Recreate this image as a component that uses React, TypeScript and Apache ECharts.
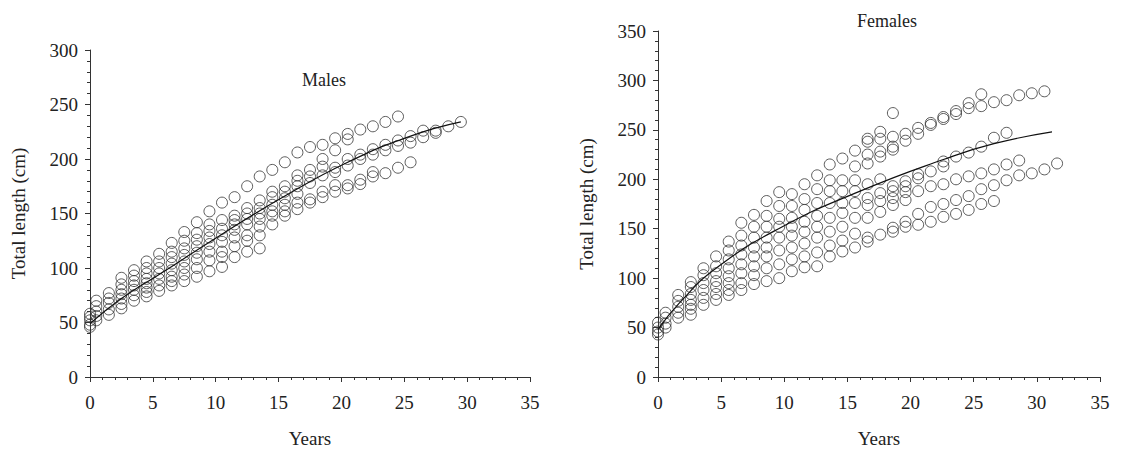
import { useEffect, useRef } from 'react';
import * as echarts from 'echarts';

// [age (years), total lengths (cm)] per column
const maleCols: [number, number[]][] = [
  [0, [58, 55, 52, 48, 46]],
  [0.5, [70, 65, 60, 56, 52]],
  [1.5, [77, 72, 68, 62, 57]],
  [2.5, [91, 85, 80, 76, 72, 67, 63]],
  [3.5, [98, 93, 88, 84, 80, 75, 70]],
  [4.5, [106, 100, 95, 90, 86, 82, 78, 74]],
  [5.5, [113, 106, 100, 95, 90, 84, 79]],
  [6.5, [123, 115, 110, 104, 98, 92, 88, 84]],
  [7.5, [133, 125, 118, 112, 106, 100, 94, 88]],
  [8.5, [142, 132, 126, 120, 114, 108, 100, 92]],
  [9.5, [152, 140, 134, 128, 122, 115, 107, 97]],
  [10.5, [160, 144, 136, 130, 124, 115, 110, 101]],
  [11.5, [165, 148, 144, 140, 135, 128, 120, 110]],
  [12.5, [175, 155, 150, 145, 140, 130, 125, 115]],
  [13.5, [184, 162, 155, 150, 145, 138, 130, 118]],
  [14.5, [190, 170, 165, 158, 152, 148, 140]],
  [15.5, [197, 175, 170, 164, 158, 152, 148]],
  [16.5, [206, 185, 180, 175, 168, 160, 154]],
  [17.5, [211, 190, 184, 178, 163, 160]],
  [18.5, [213, 200, 193, 185, 170, 165]],
  [19.5, [219, 208, 192, 188, 176, 170]],
  [20.5, [223, 218, 200, 194, 176, 173]],
  [21.5, [227, 204, 200, 181, 177]],
  [22.5, [230, 209, 204, 188, 184]],
  [23.5, [234, 213, 208, 187]],
  [24.5, [239, 217, 212, 192]],
  [25.5, [221, 215, 197]],
  [26.5, [226, 220]],
  [27.5, [226, 224]],
  [28.5, [230]],
  [29.5, [234]],
];

const femaleCols: [number, number[]][] = [
  [0, [55, 50, 46, 43]],
  [0.6, [65, 60, 54, 50]],
  [1.6, [83, 77, 71, 65, 60]],
  [2.6, [96, 91, 84, 78, 73, 69, 63]],
  [3.6, [110, 103, 95, 88, 80, 73]],
  [4.6, [122, 112, 105, 97, 91, 84, 78]],
  [5.6, [137, 128, 119, 110, 102, 95, 88, 83]],
  [6.6, [156, 143, 133, 124, 114, 105, 95, 88]],
  [7.6, [164, 152, 141, 131, 122, 112, 103, 94]],
  [8.6, [178, 163, 152, 141, 131, 122, 110, 97]],
  [9.6, [187, 173, 160, 152, 141, 128, 114, 100]],
  [10.6, [185, 173, 161, 152, 143, 131, 119, 107]],
  [11.6, [195, 180, 169, 157, 147, 135, 122, 111]],
  [12.6, [204, 190, 176, 163, 152, 141, 126, 112]],
  [13.6, [215, 199, 188, 176, 161, 147, 133, 122]],
  [14.6, [221, 199, 188, 176, 166, 152, 138, 127]],
  [15.6, [229, 213, 199, 188, 176, 161, 145, 131]],
  [16.6, [241, 238, 225, 216, 195, 181, 174, 161, 141, 137]],
  [17.6, [248, 241, 228, 223, 200, 186, 178, 167, 144]],
  [18.6, [267, 243, 233, 230, 193, 188, 181, 174, 151, 147]],
  [19.6, [246, 239, 198, 193, 187, 179, 157, 152]],
  [20.6, [252, 246, 205, 201, 188, 165, 154]],
  [21.6, [257, 255, 208, 193, 172, 157]],
  [22.6, [263, 261, 218, 213, 195, 175, 162]],
  [23.6, [269, 266, 223, 200, 179, 165]],
  [24.6, [277, 272, 227, 203, 183, 169]],
  [25.6, [286, 274, 233, 206, 190, 175]],
  [26.6, [278, 242, 210, 194, 178]],
  [27.6, [280, 247, 215, 199]],
  [28.6, [285, 219, 204]],
  [29.6, [287, 206]],
  [30.6, [289, 210]],
  [31.6, [216]],
];

// fitted growth curves
const maleCurve: [number, number][] = [
  [0, 49], [2.5, 72], [5.5, 94], [10.5, 131], [15.5, 166], [20.5, 197], [25.5, 221], [29.5, 234],
];
const femaleCurve: [number, number][] = [
  [0, 48], [1.7, 75], [4.7, 111], [9.7, 151], [16, 188], [22.6, 220], [26.6, 236], [31.2, 248],
];

const FONT = 'Liberation Serif';
const flat = (cols: [number, number[]][]) => cols.flatMap(([x, ys]) => ys.map((y) => [x, y]));

const xAxisBase = (gridIndex: number) => ({
  gridIndex,
  type: 'value',
  min: 0,
  max: 35,
  interval: 5,
  name: 'Years',
  nameLocation: 'middle',
  nameGap: 52,
  nameTextStyle: { fontFamily: FONT, fontSize: 19, color: '#222' },
  axisLine: { lineStyle: { color: '#333' } },
  axisTick: { show: true, length: 5, lineStyle: { color: '#333' } },
  minorTick: { show: true, splitNumber: 5, length: 3, lineStyle: { color: '#333' } },
  splitLine: { show: false },
  axisLabel: { fontFamily: FONT, fontSize: 19, color: '#222', margin: 16 },
});

const yAxisBase = (gridIndex: number, max: number) => ({
  gridIndex,
  type: 'value',
  min: 0,
  max,
  interval: 50,
  name: 'Total length (cm)',
  nameLocation: 'middle',
  nameGap: 62,
  nameTextStyle: { fontFamily: FONT, fontSize: 19, color: '#222' },
  axisLine: { show: true, lineStyle: { color: '#333' } },
  axisTick: { show: true, length: 5, lineStyle: { color: '#333' } },
  minorTick: { show: true, splitNumber: 5, length: 3, lineStyle: { color: '#333' } },
  splitLine: { show: false },
  axisLabel: { fontFamily: FONT, fontSize: 19, color: '#222', margin: 12 },
});

const scatter = (data: number[][], i: number) => ({
  type: 'scatter',
  xAxisIndex: i,
  yAxisIndex: i,
  data,
  symbol: 'circle',
  symbolSize: 11,
  itemStyle: { color: 'rgba(255,255,255,0)', borderColor: '#333', borderWidth: 1 },
});

const curve = (data: number[][], i: number) => ({
  type: 'line',
  xAxisIndex: i,
  yAxisIndex: i,
  data,
  smooth: true,
  showSymbol: false,
  lineStyle: { color: '#111', width: 1.2 },
  z: 3,
});

export default function App() {
  const ref = useRef<HTMLDivElement>(null);

  useEffect(() => {
    if (!ref.current) return;
    const chart = echarts.init(ref.current, undefined, { renderer: 'svg' });
    chart.setOption({
      animation: false,
      backgroundColor: '#fff',
      title: [
        { text: 'Males', left: 289, top: 58, textStyle: { fontFamily: FONT, fontSize: 18, fontWeight: 'normal', color: '#222' } },
        { text: 'Females', left: 844, top: -1, textStyle: { fontFamily: FONT, fontSize: 18, fontWeight: 'normal', color: '#222' } },
      ],
      grid: [
        { left: 79, top: 42, width: 443, height: 335 },
        { left: 650, top: 23, width: 442, height: 355 },
      ],
      xAxis: [xAxisBase(0), xAxisBase(1)],
      yAxis: [yAxisBase(0, 300), yAxisBase(1, 350)],
      series: [
        scatter(flat(maleCols), 0),
        curve(maleCurve, 0),
        scatter(flat(femaleCols), 1),
        curve(femaleCurve, 1),
      ],
    });
    return () => chart.dispose();
  }, []);

  return <div ref={ref} style={{ width: '100%', height: 445 }} />;
}
